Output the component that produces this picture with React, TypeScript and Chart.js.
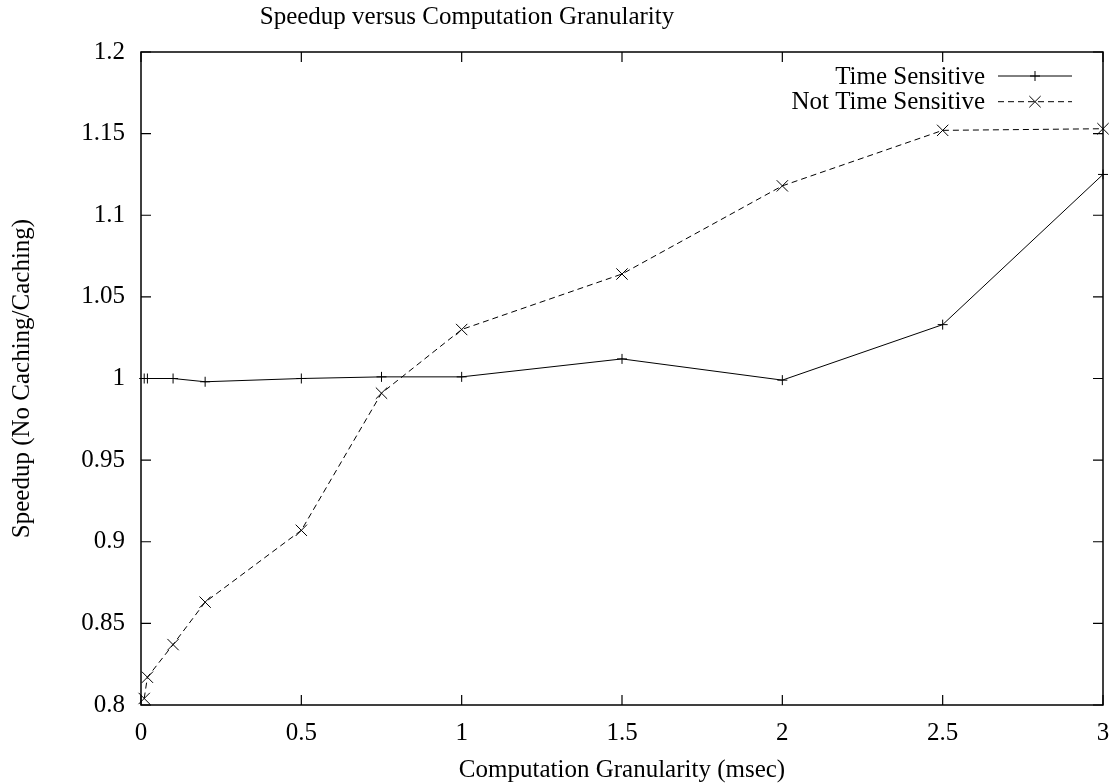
import React, { useEffect, useRef } from 'react';
import { Chart, registerables } from 'chart.js';

Chart.register(...registerables);

const chartTitle = 'Speedup versus Computation Granularity';
const xAxisTitle = 'Computation Granularity (msec)';
const yAxisTitle = 'Speedup (No Caching/Caching)';

const granularity = [0.01, 0.02, 0.1, 0.2, 0.5, 0.75, 1, 1.5, 2, 2.5, 3];
const timeSensitive = [1.0, 1.0, 1.0, 0.998, 1.0, 1.001, 1.001, 1.012, 0.999, 1.033, 1.125];
const notTimeSensitive = [0.804, 0.817, 0.837, 0.863, 0.907, 0.991, 1.03, 1.064, 1.118, 1.152, 1.153];

const xTicks = [0, 0.5, 1, 1.5, 2, 2.5, 3];
const xTickLabels = ['0', '0.5', '1', '1.5', '2', '2.5', '3'];
const yTicks = [0.8, 0.85, 0.9, 0.95, 1, 1.05, 1.1, 1.15, 1.2];
const yTickLabels = ['0.8', '0.85', '0.9', '0.95', '1', '1.05', '1.1', '1.15', '1.2'];

const FONT = '"Liberation Serif", "Times New Roman", serif';
const FS = 25;

function drawMarker(ctx: CanvasRenderingContext2D, style: string, x: number, y: number, r: number) {
  ctx.beginPath();
  if (style === 'cross') {
    ctx.moveTo(x - r, y);
    ctx.lineTo(x + r, y);
    ctx.moveTo(x, y - r);
    ctx.lineTo(x, y + r);
  } else {
    const d = r * Math.SQRT1_2;
    ctx.moveTo(x - d, y - d);
    ctx.lineTo(x + d, y + d);
    ctx.moveTo(x - d, y + d);
    ctx.lineTo(x + d, y - d);
  }
  ctx.stroke();
}

const framePlugin = {
  id: 'gnuplotFrame',
  afterDraw(chart: any) {
    const ctx: CanvasRenderingContext2D = chart.ctx;
    const a = chart.chartArea;
    const xs = chart.scales.x;
    const ys = chart.scales.y;
    ctx.save();
    ctx.strokeStyle = '#000';
    ctx.lineWidth = 1.5;
    ctx.strokeRect(a.left, a.top, a.right - a.left, a.bottom - a.top);
    ctx.lineWidth = 1.2;
    const tl = 10;
    ctx.beginPath();
    xs.ticks.forEach((t: any) => {
      const px = xs.getPixelForValue(t.value);
      ctx.moveTo(px, a.bottom);
      ctx.lineTo(px, a.bottom - tl);
      ctx.moveTo(px, a.top);
      ctx.lineTo(px, a.top + tl);
    });
    ys.ticks.forEach((t: any) => {
      const py = ys.getPixelForValue(t.value);
      ctx.moveTo(a.left, py);
      ctx.lineTo(a.left + tl, py);
      ctx.moveTo(a.right, py);
      ctx.lineTo(a.right - tl, py);
    });
    ctx.stroke();

    // titles
    ctx.fillStyle = '#000';
    ctx.font = `${FS}px ${FONT}`;
    ctx.textAlign = 'center';
    ctx.textBaseline = 'alphabetic';
    ctx.fillText(chartTitle, 467, 24);
    ctx.fillText(xAxisTitle, (a.left + a.right) / 2, 777);
    ctx.save();
    ctx.translate(29, (a.top + a.bottom) / 2);
    ctx.rotate(-Math.PI / 2);
    ctx.fillText(yAxisTitle, 0, 0);
    ctx.restore();

    // legend
    chart.data.datasets.forEach((ds: any, i: number) => {
      const ly = a.top + 24 + i * 25.7;
      ctx.textAlign = 'right';
      ctx.fillText(ds.label, a.right - 118, ly + 7.5);
      ctx.strokeStyle = ds.borderColor;
      ctx.lineWidth = ds.borderWidth;
      ctx.setLineDash(ds.borderDash || []);
      ctx.beginPath();
      ctx.moveTo(a.right - 105, ly);
      ctx.lineTo(a.right - 31, ly);
      ctx.stroke();
      ctx.setLineDash([]);
      drawMarker(ctx, ds.pointStyle, a.right - 68, ly, ds.pointRadius);
    });
    ctx.restore();
  },
};

export default function App() {
  const ref = useRef<HTMLCanvasElement>(null);
  useEffect(() => {
    document.body.style.margin = '0';
    const chart = new Chart(ref.current as HTMLCanvasElement, {
      type: 'line',
      data: {
        datasets: [
          {
            label: 'Time Sensitive',
            data: granularity.map((x, i) => ({ x, y: timeSensitive[i] })),
            borderColor: '#000',
            backgroundColor: '#000',
            borderWidth: 1,
            pointStyle: 'cross',
            pointRadius: 5,
            pointBorderWidth: 1,
            pointBorderColor: '#000',
            tension: 0,
            fill: false,
            clip: false as any,
          },
          {
            label: 'Not Time Sensitive',
            data: granularity.map((x, i) => ({ x, y: notTimeSensitive[i] })),
            borderColor: '#000',
            backgroundColor: '#000',
            borderWidth: 1,
            borderDash: [6, 4],
            pointStyle: 'crossRot',
            pointRadius: 8,
            pointBorderWidth: 1,
            pointBorderColor: '#000',
            tension: 0,
            fill: false,
            clip: false as any,
          },
        ] as any,
      },
      options: {
        animation: false,
        responsive: true,
        maintainAspectRatio: false,
        layout: { padding: { top: 52, right: 15, left: 0, bottom: 0 } },
        plugins: {
          legend: { display: false },
          title: { display: false },
          tooltip: { enabled: false },
        },
        scales: {
          x: {
            type: 'linear',
            min: 0,
            max: 3,
            grid: { display: false, drawTicks: false },
            border: { display: false },
            afterBuildTicks: (s: any) => {
              s.ticks = xTicks.map((v) => ({ value: v }));
            },
            afterFit: (s: any) => {
              s.height = 79;
              s.paddingLeft = 0;
              s.paddingRight = 0;
            },
            ticks: {
              padding: 13,
              color: '#000',
              font: { family: FONT, size: FS },
              maxRotation: 0,
              autoSkip: false,
              callback: (_v: any, i: number) => xTickLabels[i],
            },
          },
          y: {
            type: 'linear',
            min: 0.8,
            max: 1.2,
            grid: { display: false, drawTicks: false },
            border: { display: false },
            afterBuildTicks: (s: any) => {
              s.ticks = yTicks.map((v) => ({ value: v }));
            },
            afterFit: (s: any) => {
              s.width = 141;
              s.paddingTop = 0;
              s.paddingBottom = 0;
            },
            ticks: {
              padding: 16,
              color: '#000',
              font: { family: FONT, size: FS },
              autoSkip: false,
              callback: (_v: any, i: number) => yTickLabels[i],
            },
          },
        },
      } as any,
      plugins: [framePlugin],
    });
    return () => chart.destroy();
  }, []);
  return (
    <div style={{ position: 'fixed', left: 0, top: 0, width: 1118, height: 784, background: '#fff' }}>
      <canvas ref={ref} />
    </div>
  );
}
